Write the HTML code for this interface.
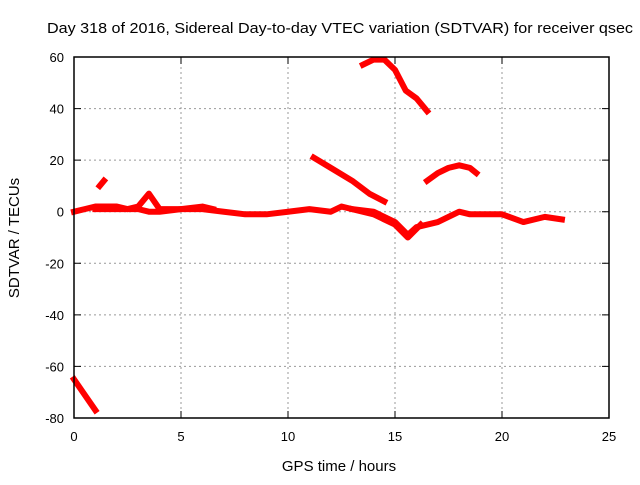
<!DOCTYPE html>
<html><head><meta charset="utf-8"><style>
body{margin:0;background:#fff}
svg text{font-family:"Liberation Sans",sans-serif;font-size:13px;fill:#000}
</style></head><body>
<svg width="640" height="480">
<text x="47" y="33" textLength="586" lengthAdjust="spacingAndGlyphs" style="font-size:15px">Day 318 of 2016, Sidereal Day-to-day VTEC variation (SDTVAR) for receiver qsec</text>
<text x="339" y="471" text-anchor="middle" style="font-size:15px">GPS time / hours</text>
<text transform="translate(19,238) rotate(-90)" text-anchor="middle" style="font-size:15px">SDTVAR / TECUs</text>
<g id="grid"></g><g id="series"></g>
<rect x="74" y="57" width="535" height="361" fill="none" stroke="#000" stroke-width="1.5"/>
</svg>
<script>
const xTicks=[0,5,10,15,20,25];
const yTicks=[60,40,20,0,-20,-40,-60,-80];
const seriesMain=[[0,0],[0.5,1],[1,2],[1.5,2],[2,2],[2.5,1],[3,2],[3.5,7],[4,1],[4.5,1],[5,1],[6,1],[7,0],[8,-1],[9,-1],[10,0],[11,1],[12,0],[12.5,2],[13,1],[14,0],[15,-4],[15.6,-9],[16,-6],[17,-4],[18,0],[18.5,-1],[19,-1],[20,-1],[21,-4],[22,-2],[22.8,-3]];
const seriesLow=[[1,1],[2,1],[3,1],[3.5,0],[4,0],[5,1],[6,2],[6.5,1]];
const seriesFall=[[11.2,21],[12,17],[13,12],[13.8,7],[14.5,4]];
const seriesTop=[[13.5,57],[14,59],[14.5,59],[15,55],[15.5,47],[16,44],[16.5,39]];
const seriesArc=[[16.5,12],[17,15],[17.5,17],[18,18],[18.5,17],[18.8,15]];
const seriesStart=[[0,-65],[0.5,-71],[1,-77]];
const seriesBlip=[[1.2,10],[1.4,12]];
const seriesMid=[[13,1],[14,-1],[15,-5],[15.6,-10],[16.2,-5]];
const X=v=>74+v*535/25, Y=v=>57+(60-v)*361/140;
const NS="http://www.w3.org/2000/svg";
const g=document.getElementById('grid'), s=document.getElementById('series');
function mk(tag,attrs,parent){const e=document.createElementNS(NS,tag);for(const k in attrs)e.setAttribute(k,attrs[k]);parent.appendChild(e);return e;}
xTicks.forEach(t=>{
 if(t>0&&t<25){const l=mk('line',{x1:X(t),x2:X(t),y1:57,y2:418,stroke:'#999','stroke-dasharray':'2,3'},g);
 
 
 const tk=mk('path',{d:`M${X(t)},418v-7M${X(t)},57v7`,stroke:'#000'},g);
 
 }
 const tx=mk('text',{x:X(t),y:441,'text-anchor':'middle'},g);tx.textContent=t;
 
 
});
yTicks.forEach(t=>{
 if(t<60&&t>-80){const l=mk('line',{x1:74,x2:609,y1:Y(t),y2:Y(t),stroke:'#999','stroke-dasharray':'2,3'},g);
 
 
 const tk=mk('path',{d:`M74,${Y(t)}h7M609,${Y(t)}h-7`,stroke:'#000'},g);
 
 }
 const tx=mk('text',{x:64,y:Y(t)+5,'text-anchor':'end'},g);tx.textContent=t;
 
 
});
[seriesMain,seriesLow,seriesFall,seriesTop,seriesArc,seriesStart,seriesBlip,seriesMid].forEach(d=>{
 const p=mk('polyline',{points:d.map(q=>X(q[0])+','+Y(q[1])).join(' '),fill:'none',stroke:'#f00','stroke-width':6,'stroke-linejoin':'round','stroke-linecap':'square'},s);
 
 
});
</script>
</body></html>
